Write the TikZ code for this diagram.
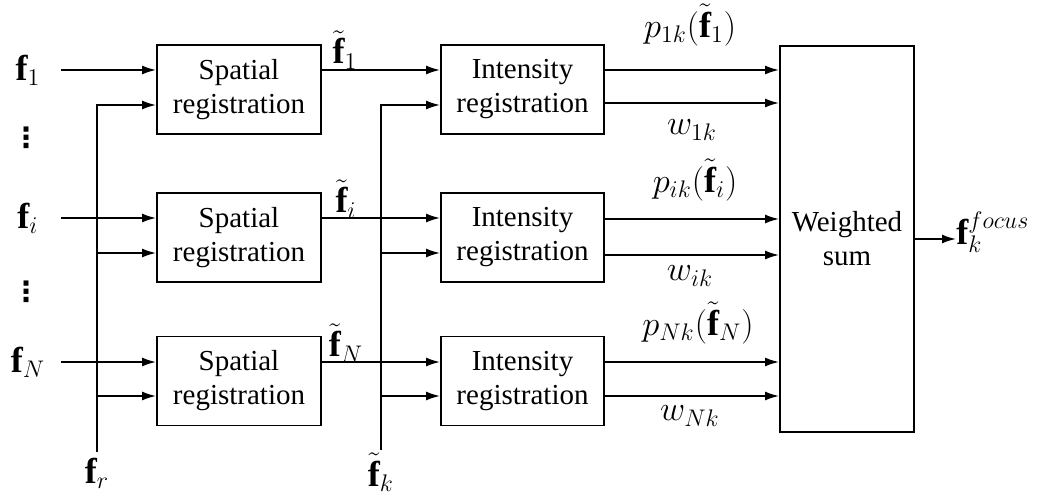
\documentclass[tikz,border=0pt]{standalone}
\usepackage{fontspec}
\setmainfont{Liberation Serif}
\newfontfamily\dejavu{DejaVu Sans}
\usetikzlibrary{arrows.meta}
\begin{document}
\begin{tikzpicture}[x=0.5pt,y=-0.5pt,
  box/.style={draw, line width=0.9pt, align=center, inner sep=0pt, font=\fontsize{14.5}{17}\selectfont},
  arr/.style={line width=0.9pt, -{Latex[length=7pt,width=4.5pt]}},
  ln/.style={line width=0.9pt},
  lab/.style={inner sep=0pt, font=\fontsize{18}{20}\selectfont},
  dotlab/.style={inner sep=0pt, font=\dejavu\bfseries\fontsize{14}{15}\selectfont}]
\useasboundingbox (0,0) rectangle (1058,496);
% boxes
\node[box, minimum width=82pt, minimum height=44.5pt] (sp1) at (239,89.5) {Spatial\\registration};
\node[box, minimum width=82pt, minimum height=44.5pt] (sp2) at (239,237.5) {Spatial\\registration};
\node[box, minimum width=82pt, minimum height=44.5pt] (sp3) at (239,381) {Spatial\\registration};
\node[box, minimum width=81.5pt, minimum height=44.5pt] (in1) at (522.5,89.5) {Intensity\\registration};
\node[box, minimum width=81.5pt, minimum height=44.5pt] (in2) at (522.5,237.5) {Intensity\\registration};
\node[box, minimum width=81.5pt, minimum height=44.5pt] (in3) at (522.5,381) {Intensity\\registration};
\node[box, minimum width=67pt, minimum height=193pt] (ws) at (847,239) {Weighted\\sum};
% inputs
\node[lab] (f1) at (28,70) {$\mathbf{f}_1$};
\node[lab] (fi) at (28,218) {$\mathbf{f}_i$};
\node[lab] (fN) at (28,362) {$\mathbf{f}_N$};
\node[dotlab] (d1) at (26,138) {⋮};
\node[dotlab] (d2) at (26,292) {⋮};
\coordinate (s1) at (61,70);
\coordinate (s2) at (61,218);
\coordinate (s3) at (61,362);
\draw[arr] (s1) -- (s1 -| sp1.west);
\draw[arr] (s2) -- (s2 -| sp2.west);
\draw[arr] (s3) -- (s3 -| sp3.west);
% f_r bus
\node[lab, anchor=base] (fr) at (97,483) {$\mathbf{f}_r$};
\coordinate (frb) at (97,452);
\coordinate (frj2) at (97,253);
\coordinate (frj3) at (97,396);
\draw[arr] (frb) |- (sp1.west |- 0,105);
\draw[arr] (frj2) -- (frj2 -| sp2.west);
\draw[arr] (frj3) -- (frj3 -| sp3.west);
% middle
\draw[arr] (sp1.east |- 0,70) -- (in1.west |- 0,70);
\draw[arr] (sp2.east |- 0,218) -- (in2.west |- 0,218);
\draw[arr] (sp3.east |- 0,362) -- (in3.west |- 0,362);
\node[lab] (t1) at (345,50) {$\tilde{\mathbf{f}}_1$};
\node[lab] (t2) at (346,199) {$\tilde{\mathbf{f}}_i$};
\node[lab] (t3) at (346,343) {$\tilde{\mathbf{f}}_N$};
% f_k bus
\node[lab, anchor=base] (fk) at (381,486) {$\tilde{\mathbf{f}}_k$};
\coordinate (fkb) at (381,450);
\coordinate (fkj2) at (381,253);
\coordinate (fkj3) at (381,396);
\draw[arr] (fkb) |- (in1.west |- 0,105);
\draw[arr] (fkj2) -- (fkj2 -| in2.west);
\draw[arr] (fkj3) -- (fkj3 -| in3.west);
% outputs
\draw[arr] (in1.east |- 0,70) -- (ws.west |- 0,70);
\draw[arr] (in1.east |- 0,103) -- (ws.west |- 0,103);
\draw[arr] (in2.east |- 0,219) -- (ws.west |- 0,219);
\draw[arr] (in2.east |- 0,255) -- (ws.west |- 0,255);
\draw[arr] (in3.east |- 0,362) -- (ws.west |- 0,362);
\draw[arr] (in3.east |- 0,396) -- (ws.west |- 0,396);
\node[lab] (p1) at (690,25) {$p_{1k}(\tilde{\mathbf{f}}_1)$};
\node[lab] (w1) at (692,130) {$w_{1k}$};
\node[lab] (p2) at (695,180) {$p_{ik}(\tilde{\mathbf{f}}_i)$};
\node[lab] (w2) at (690,276) {$w_{ik}$};
\node[lab] (p3) at (698,323) {$p_{Nk}(\tilde{\mathbf{f}}_N)$};
\node[lab] (w3) at (690,416) {$w_{Nk}$};
% final output
\node[lab, anchor=west] (fo) at (956,232) {$\mathbf{f}_k^{focus}$};
\draw[arr] (ws.east |- 0,239) -- (fo.west |- 0,239);
\end{tikzpicture}
\end{document}
